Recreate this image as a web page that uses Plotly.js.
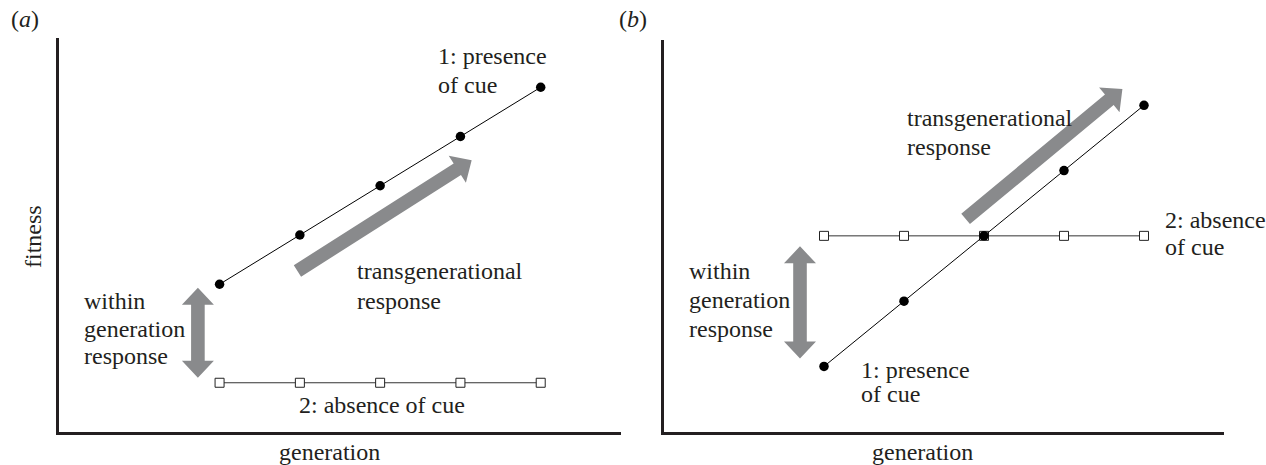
<!DOCTYPE html>
<html>
<head>
<meta charset="utf-8">
<script src="https://cdn.plot.ly/plotly-3.0.1.min.js"></script>
<style>
html,body{margin:0;padding:0;background:#fff;}
#chart{width:1266px;height:465px;}
</style>
</head>
<body>
<div id="chart"></div>
<script>
// ---------- data ----------
var generations = [1, 2, 3, 4, 5];
var aPresence = [2, 3, 4, 5, 6];   // panel (a) 1: presence of cue
var aAbsence  = [0, 0, 0, 0, 0];   // panel (a) 2: absence of cue
var bPresence = [-2, -1, 0, 1, 2]; // panel (b) 1: presence of cue
var bAbsence  = [0, 0, 0, 0, 0];   // panel (b) 2: absence of cue

// arrows, in data units of each panel: [x0, y0, x1, y1]
var aWithinArrow = [0.73, 0.10, 0.73, 1.93];
var aTransArrow  = [1.97, 2.27, 4.14, 4.52];
var bWithinArrow = [0.70, -1.88, 0.70, -0.16];
var bTransArrow  = [2.77, 0.26, 4.73, 2.25];

// ---------- layout geometry ----------
var W = 1266, H = 465;
var FONT = 'Liberation Serif, Times New Roman, serif';
var INK = '#231f20';
var ARROW = '#898a8c';
var FS = 24;

var axA = {xdom: [59 / W, 621 / W], ydom: [1 - 432 / H, 1 - 38 / H], xr: [-1, 6], yr: [-1, 7]};
var axB = {xdom: [664 / W, 1224 / W], ydom: [1 - 431.7 / H, 1 - 40 / H], xr: [-1, 6], yr: [-3, 3]};

function toPx(ax, x, y) {
  var px = (ax.xdom[0] + (x - ax.xr[0]) / (ax.xr[1] - ax.xr[0]) * (ax.xdom[1] - ax.xdom[0])) * W;
  var py = (1 - (ax.ydom[0] + (y - ax.yr[0]) / (ax.yr[1] - ax.yr[0]) * (ax.ydom[1] - ax.ydom[0]))) * H;
  return [px, py];
}
function pathFromPx(pts) {
  return pts.map(function (p, i) {
    return (i ? 'L' : 'M') + (p[0] / W).toFixed(5) + ',' + (1 - p[1] / H).toFixed(5);
  }).join(' ') + ' Z';
}
var SHAFT = 6.8, HEAD = 16, HEADLEN = 17;
function arrowShape(ax, a, dbl) {
  var p0 = toPx(ax, a[0], a[1]), p1 = toPx(ax, a[2], a[3]);
  var dx = p1[0] - p0[0], dy = p1[1] - p0[1], len = Math.sqrt(dx * dx + dy * dy);
  var u = [dx / len, dy / len], n = [-u[1], u[0]];
  function pt(b, s) { return [b[0] + n[0] * s, b[1] + n[1] * s]; }
  var b1 = [p1[0] - u[0] * HEADLEN, p1[1] - u[1] * HEADLEN];
  var pts;
  if (dbl) {
    var b0 = [p0[0] + u[0] * HEADLEN, p0[1] + u[1] * HEADLEN];
    pts = [p0, pt(b0, HEAD), pt(b0, SHAFT), pt(b1, SHAFT), pt(b1, HEAD), p1,
           pt(b1, -HEAD), pt(b1, -SHAFT), pt(b0, -SHAFT), pt(b0, -HEAD)];
  } else {
    pts = [pt(p0, SHAFT), pt(b1, SHAFT), pt(b1, HEAD), p1, pt(b1, -HEAD), pt(b1, -SHAFT), pt(p0, -SHAFT)];
  }
  return {type: 'path', xref: 'paper', yref: 'paper', path: pathFromPx(pts),
          fillcolor: ARROW, line: {width: 0}, layer: 'above'};
}

function lab(text, xpx, basePx, opts) {
  opts = opts || {};
  var fs = opts.fs || FS;
  return {
    text: text, showarrow: false, xref: 'paper', yref: 'paper',
    x: xpx / W, y: 1 - (basePx - 0.3 * fs) / H,
    xanchor: opts.xanchor || 'left', yanchor: 'middle',
    textangle: opts.angle || 0,
    font: {family: FONT, size: fs, color: INK}
  };
}

// ---------- traces ----------
var circ = {size: 9.5, color: '#000', symbol: 'circle'};
var sq = {size: 9, color: '#fff', symbol: 'square', line: {color: '#222', width: 1}};
var traces = [
  {x: generations, y: aAbsence, xaxis: 'x', yaxis: 'y', mode: 'lines+markers',
   line: {color: '#333', width: 1}, marker: sq, name: '2: absence of cue'},
  {x: generations, y: aPresence, xaxis: 'x', yaxis: 'y', mode: 'lines+markers',
   line: {color: '#000', width: 1}, marker: circ, name: '1: presence of cue'},
  {x: generations, y: bAbsence, xaxis: 'x2', yaxis: 'y2', mode: 'lines+markers',
   line: {color: '#333', width: 1}, marker: sq, name: '2: absence of cue'},
  {x: generations, y: bPresence, xaxis: 'x2', yaxis: 'y2', mode: 'lines+markers',
   line: {color: '#000', width: 1}, marker: circ, name: '1: presence of cue'}
];

function axis(dom, rng, anchor) {
  return {domain: dom, range: rng, anchor: anchor, showline: true, linecolor: INK, linewidth: 3,
          showgrid: false, zeroline: false, showticklabels: false, ticks: '', fixedrange: true};
}

var layout = {
  width: W, height: H,
  margin: {l: 0, r: 0, t: 0, b: 0},
  paper_bgcolor: '#fff', plot_bgcolor: 'rgba(0,0,0,0)',
  showlegend: false,
  xaxis: axis(axA.xdom, axA.xr, 'y'),
  yaxis: axis(axA.ydom, axA.yr, 'x'),
  xaxis2: axis(axB.xdom, axB.xr, 'y2'),
  yaxis2: axis(axB.ydom, axB.yr, 'x2'),
  shapes: [
    arrowShape(axA, aWithinArrow, true),
    arrowShape(axA, aTransArrow, false),
    arrowShape(axB, bWithinArrow, true),
    arrowShape(axB, bTransArrow, false)
  ],
  annotations: [
    lab('(<i>a</i>)', 9, 26),
    lab('1: presence', 436, 63),
    lab('of cue', 436, 92),
    lab('transgenerational', 355, 278),
    lab('response', 355, 308),
    lab('within', 82, 308),
    lab('generation', 82, 336),
    lab('response', 82, 363),
    lab('2: absence of cue', 297, 412),
    lab('generation', 329, 459, {xanchor: 'center'}),
    {text: 'fitness', showarrow: false, xref: 'paper', yref: 'paper', x: 33 / W, y: 1 - 237 / H,
     xanchor: 'center', yanchor: 'middle', textangle: -90, font: {family: FONT, size: FS, color: INK}},
    lab('(<i>b</i>)', 617, 26),
    lab('transgenerational', 905, 125),
    lab('response', 905, 154),
    lab('2: absence', 1163, 227),
    lab('of cue', 1163, 254),
    lab('within', 687, 278),
    lab('generation', 687, 307),
    lab('response', 687, 336),
    lab('1: presence', 859, 377),
    lab('of cue', 859, 401),
    lab('generation', 922, 459, {xanchor: 'center'})
  ]
};

Plotly.newPlot('chart', traces, layout, {staticPlot: true, displayModeBar: false});
</script>
</body>
</html>
